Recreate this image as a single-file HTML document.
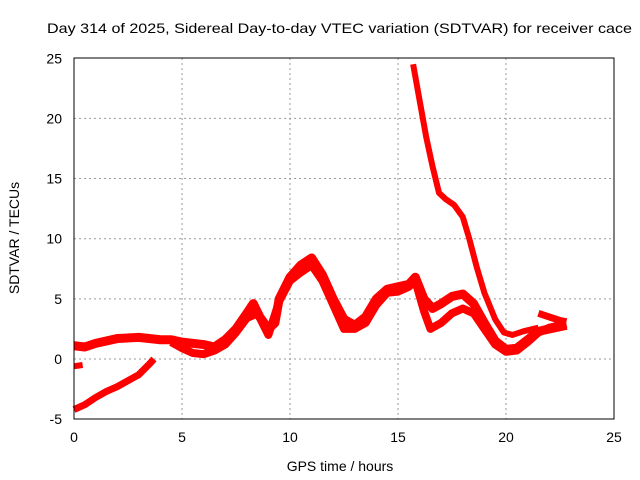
<!DOCTYPE html>
<html><head><meta charset="utf-8"><style>
body{margin:0;background:#fff;}
svg{display:block;font-family:"Liberation Sans",sans-serif;}
</style></head><body>
<svg id="chart" width="640" height="480">
<text x="47" y="33" font-size="14" textLength="585" lengthAdjust="spacingAndGlyphs">Day 314 of 2025, Sidereal Day-to-day VTEC variation (SDTVAR) for receiver cace</text>
<text x="340" y="471" font-size="14" text-anchor="middle">GPS time / hours</text>
<text transform="translate(19,238) rotate(-90)" font-size="14" text-anchor="middle">SDTVAR / TECUs</text>
<g id="grid"></g><g id="ticks"></g><g id="marks"></g>
<rect x="74" y="58" width="540" height="361" fill="none" stroke="#000" stroke-width="1"/>
</svg>
<script>
const xTicks=[0,5,10,15,20,25];
const yTicks=[-5,0,5,10,15,20,25];
const s1Hours=[0,0.5,1,2,3,4,4.5,5,6,6.5,7,7.5,8,8.3,8.6,9,9.3,9.5,10,10.5,11,11.5,12,12.5,13,13.5,14,14.5,15,15.5,15.8,16.2,16.6,17,17.5,18,18.5,19,19.5,20,20.5,21,21.5,22,22.8];
const s1Vals=[1.1,1.0,1.3,1.7,1.8,1.6,1.6,1.4,1.2,1.0,1.6,2.5,3.8,4.6,3.5,2.5,3.0,5.0,6.8,7.8,8.4,7.0,5.0,3.3,2.8,3.5,5.0,5.8,6.0,6.2,6.8,5.0,4.2,4.6,5.2,5.4,4.6,3.0,1.5,0.8,0.9,1.6,2.3,2.5,2.8];
const s2Hours=[4.5,5,5.5,6,6.5,7,7.5,8,8.5,9,9.5,10,10.5,11,11.5,12,12.5,13,13.5,14,14.5,15,15.5,15.8,16.2,16.5,17,17.5,18,18.5,19,19.5,20,20.5,21,21.5,22,22.8];
const s2Vals=[1.4,0.9,0.5,0.4,0.7,1.2,2.2,3.4,3.8,2.0,4.8,6.5,7.2,7.8,6.5,4.5,2.5,2.5,3.0,4.5,5.5,5.6,6.0,6.5,4.0,2.5,3.0,3.8,4.2,3.8,2.5,1.2,0.6,0.7,1.4,2.2,2.6,2.9];
const s3Hours=[15.7,16,16.3,16.6,16.9,17.2,17.6,18,18.3,18.65,19,19.5,19.9,20.3,20.8,21.5];
const s3Vals=[24.5,21.5,18.5,16,13.8,13.3,12.8,11.8,10,7.6,5.5,3.3,2.2,2.0,2.3,2.6];
const s4Hours=[0,0.5,1,1.5,2,2.5,3,3.5,3.7];
const s4Vals=[-4.2,-3.8,-3.2,-2.7,-2.3,-1.8,-1.3,-0.4,0];
const s5Hours=[0,0.4];
const s5Vals=[-0.6,-0.5];
const s6Hours=[21.5,22,22.5,22.8];
const s6Vals=[3.8,3.5,3.2,3.1];
const X=h=>74+h*21.6, Y=v=>359-v*12.03;
const NS="http://www.w3.org/2000/svg";
const mk=(t,a,p)=>{const e=document.createElementNS(NS,t);for(const k in a)e.setAttribute(k,a[k]);p.appendChild(e);return e;};
const grid=document.getElementById('grid'),ticks=document.getElementById('ticks'),marks=document.getElementById('marks');
xTicks.forEach(t=>{
 if(t>0&&t<25){const g=mk('line',{x1:X(t),x2:X(t),y1:58,y2:419,stroke:'#999','stroke-dasharray':'2,3'},grid);
 
 }
 const l=mk('text',{x:X(t),y:442,'font-size':14,'text-anchor':'middle'},ticks);l.textContent=t;
 
 
});
yTicks.forEach(t=>{
 if(t>-5&&t<25){const g=mk('line',{x1:74,x2:614,y1:Y(t),y2:Y(t),stroke:'#999','stroke-dasharray':'2,3'},grid);
 
 }
 const l=mk('text',{x:62,y:Y(t)+5,'font-size':14,'text-anchor':'end'},ticks);l.textContent=t;
 
 
});
[[s1Hours,s1Vals,'series-band-upper',9],[s2Hours,s2Vals,'series-band-lower',8],[s3Hours,s3Vals,'series-descending',6],[s4Hours,s4Vals,'series-rising-low',7],[s5Hours,s5Vals,'series-short',6],[s6Hours,s6Vals,'series-late',7]].forEach(([hs,vs,n,w])=>{
 const p=mk('polyline',{points:hs.map((h,i)=>X(h)+','+Y(vs[i])).join(' '),fill:'none',stroke:'#f00','stroke-width':w,'stroke-linejoin':'round'},marks);
 
 
});
</script>
</body></html>
